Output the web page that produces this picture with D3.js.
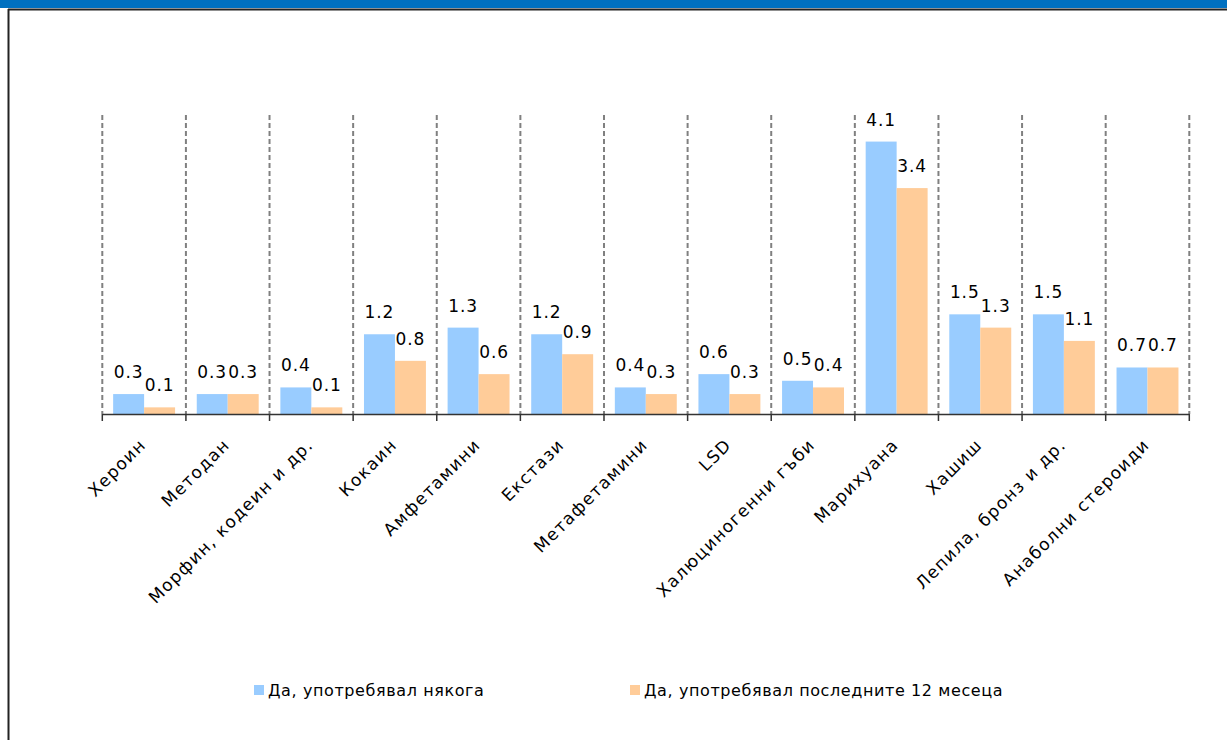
<!DOCTYPE html>
<html><head><meta charset="utf-8">
<script src="https://cdn.jsdelivr.net/npm/d3@7"></script>
<style>
html,body{margin:0;padding:0;background:#fff;}
svg{display:block;}
text{font-family:"DejaVu Sans",sans-serif;}
</style></head>
<body>
<svg id="chart" width="1227" height="740"></svg>
<script>
const categories = ["Хероин","Методан","Морфин, кодеин и др.","Кокаин","Амфетамини","Екстази","Метафетамини","LSD","Халюциногенни гъби","Марихуана","Хашиш","Лепила, бронз и др.","Анаболни стероиди"];
const everUsed = [0.3,0.3,0.4,1.2,1.3,1.2,0.4,0.6,0.5,4.1,1.5,1.5,0.7];
const last12 = [0.1,0.3,0.1,0.8,0.6,0.9,0.3,0.3,0.4,3.4,1.3,1.1,0.7];
const seriesNames = ["Да, употребявал някога","Да, употребявал последните 12 месеца"];
const seriesColors = ["#99CCFF","#FFCC99"];

const svg = d3.select("#chart");
// frame
svg.append("rect").attr("x",0).attr("y",0).attr("width",1227).attr("height",8).attr("fill","#0070C0");
svg.append("line").attr("x1",8).attr("x2",1227).attr("y1",9.5).attr("y2",9.5).attr("stroke","#222").attr("stroke-width",2);
svg.append("line").attr("x1",8.5).attr("x2",8.5).attr("y1",9).attr("y2",740).attr("stroke","#222").attr("stroke-width",2);

const x0 = d3.scaleBand().domain(categories).range([102.3,1189.3]).paddingInner(0).paddingOuter(0);
const x1 = d3.scaleBand().domain([0,1]).range([0,x0.bandwidth()]).paddingOuter(0.35).paddingInner(0);
const y = d3.scaleLinear().domain([0,4.5]).range([414,115]);

// dashed gridlines at band boundaries
const bounds = categories.map(c=>x0(c)).concat([x0.range()[1]]);
svg.append("g").selectAll("line").data(bounds).join("line")
  .attr("x1",d=>d).attr("x2",d=>d).attr("y1",y(4.5)).attr("y2",y(0))
  .attr("stroke","#808080").attr("stroke-width",2).attr("stroke-dasharray","5,3");

const data = categories.map((c,i)=>({c, v:[everUsed[i], last12[i]]}));
const g = svg.append("g");
const grp = g.selectAll("g").data(data).join("g").attr("transform",d=>`translate(${x0(d.c)},0)`);
grp.selectAll("rect").data(d=>d.v.map((v,k)=>({v,k}))).join("rect")
  .attr("x",d=>x1(d.k)).attr("width",x1.bandwidth())
  .attr("y",d=>y(d.v)).attr("height",d=>y(0)-y(d.v))
  .attr("fill",d=>seriesColors[d.k]);
grp.selectAll("text").data(d=>d.v.map((v,k)=>({v,k}))).join("text")
  .attr("x",d=>x1(d.k)+x1.bandwidth()/2).attr("y",d=>y(d.v)-16)
  .attr("text-anchor","middle").attr("font-size",17).attr("letter-spacing",0.9).attr("fill","#000")
  .text(d=>d3.format(".1f")(d.v));

// x axis
const axis = d3.axisBottom(x0).tickSize(0).tickFormat("");
const ax = svg.append("g").attr("transform",`translate(0,${y(0)})`).call(axis);
ax.select(".domain").attr("stroke","#333").attr("stroke-width",1.5);
svg.append("g").selectAll("line").data(bounds).join("line")
  .attr("x1",d=>d).attr("x2",d=>d).attr("y1",y(0)).attr("y2",y(0)+7)
  .attr("stroke","#333").attr("stroke-width",1.5);
svg.append("g").selectAll("text").data(categories).join("text")
  .attr("transform",c=>`translate(${x0(c)+x0.bandwidth()/2+3},${y(0)+32}) rotate(-45)`)
  .attr("text-anchor","end").attr("font-size",17).attr("letter-spacing",1.3).attr("fill","#000")
  .text(c=>c);

// legend
const leg = svg.append("g");
const legX = [254,630];
seriesNames.forEach((n,k)=>{
  leg.append("rect").attr("x",legX[k]).attr("y",685).attr("width",10).attr("height",10).attr("fill",seriesColors[k]);
  leg.append("text").attr("x",legX[k]+14).attr("y",696).attr("font-size",16).attr("letter-spacing",0.6).attr("fill","#000").text(n);
});
</script>
</body></html>
